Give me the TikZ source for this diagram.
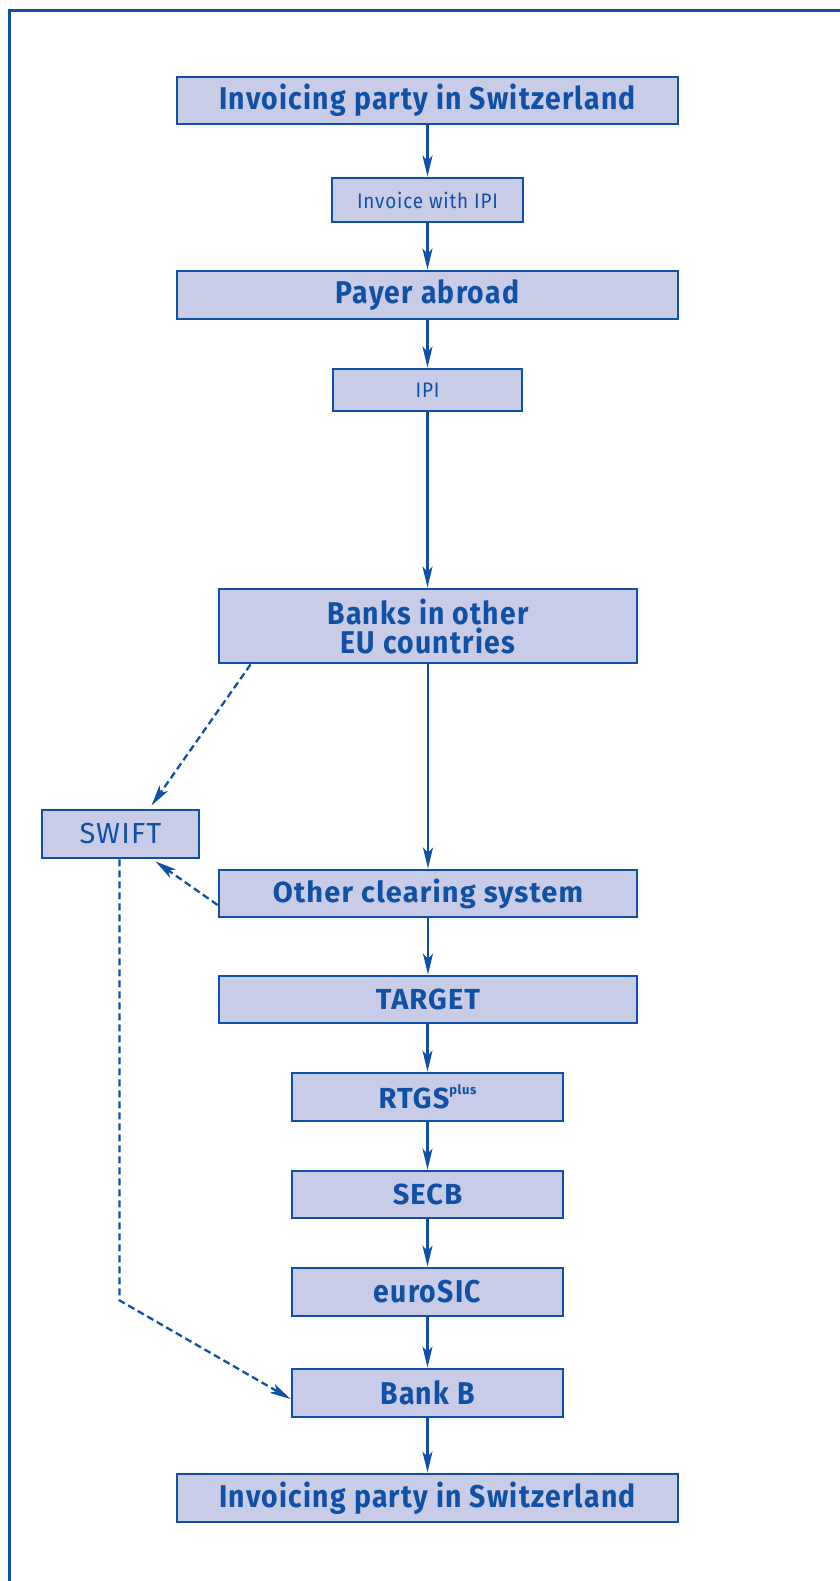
\documentclass[tikz,border=0pt]{standalone}
\usepackage{fontspec}
\setmainfont{Fira Sans}
\newfontfamily\condfont[FakeStretch=0.9,LetterSpace=4]{Fira Sans}
\newfontfamily\widefont[LetterSpace=4]{Fira Sans}
\usetikzlibrary{arrows.meta,calc}
\definecolor{lineblue}{RGB}{16,80,165}
\definecolor{boxfill}{RGB}{200,204,230}
\begin{document}
\begin{tikzpicture}[x=1pt,y=-1pt,
  box/.style={draw=lineblue, fill=boxfill, line width=2.8pt, inner sep=0pt, text=lineblue, align=center},
  bigc/.style={font=\condfont\bfseries\fontsize{31.5}{29}\selectfont},
  smallc/.style={font=\condfont\fontsize{21}{24}\selectfont},
  wideb/.style={font=\widefont\bfseries\fontsize{29}{34}\selectfont},
  wider/.style={font=\widefont\fontsize{29}{34}\selectfont},
  flow/.style={draw=lineblue, line width=2.3pt, -{Stealth[length=21pt,width=10pt,inset=5pt]}},
  dflow/.style={flow, dash pattern=on 7pt off 4pt}]
\useasboundingbox (0,0) rectangle (839,1581);
\draw[lineblue, line width=3pt] (9,1600) -- (9,11) -- (860,11);

\node[box, bigc, minimum width=501pt, minimum height=47pt] (inv1) at (427.5,100.5) {Invoicing party in Switzerland};
\node[box, smallc, minimum width=191pt, minimum height=44pt] (invoice) at (427.5,200) {Invoice with IPI};
\node[box, bigc, minimum width=501pt, minimum height=48pt] (payer) at (427.5,295) {Payer abroad};
\node[box, smallc, minimum width=189pt, minimum height=42pt] (ipi) at (427.5,390) {IPI};
\node[box, bigc, minimum width=418pt, minimum height=74pt] (banks) at (428,626) {Banks in other\\EU countries};
\node[box, wider, minimum width=157pt, minimum height=48pt] (swift) at (120.5,834) {SWIFT};
\node[box, wideb, minimum width=418pt, minimum height=47pt] (other) at (428,893.5) {Other clearing system};
\node[box, wideb, minimum width=418pt, minimum height=47pt] (target) at (428,999.5) {TARGET};
\node[box, wideb, minimum width=271pt, minimum height=48pt] (rtgs) at (427.5,1097) {RTGS\raisebox{0.5em}{\fontsize{13}{14}\selectfont plus}};
\node[box, wideb, minimum width=271pt, minimum height=47pt] (secb) at (427.5,1194.5) {SECB};
\node[box, bigc, minimum width=271pt, minimum height=48pt] (eurosic) at (427.5,1292) {euroSIC};
\node[box, bigc, minimum width=271pt, minimum height=48pt] (bankb) at (427.5,1393) {Bank B};
\node[box, bigc, minimum width=501pt, minimum height=48pt] (inv2) at (427.5,1498) {Invoicing party in Switzerland};

\draw[flow] (inv1) -- (invoice);
\draw[flow] (invoice) -- (payer);
\draw[flow] (payer) -- (ipi);
\draw[flow] (ipi.south) -- (ipi.south |- banks.north);
\draw[flow] (banks) -- (other);
\draw[flow] (other) -- (target);
\draw[flow] (target.south -| rtgs.north) -- (rtgs.north);
\draw[flow] (rtgs) -- (secb);
\draw[flow] (secb) -- (eurosic);
\draw[flow] (eurosic) -- (bankb);
\draw[flow] (bankb) -- (inv2);

\coordinate (a1) at ($(banks.south west)+(33,0)$);
\coordinate (a2) at ($(swift.north)+(31,-3)$);
\draw[dflow] (a1) -- (a2);
\coordinate (b1) at ($(other.west)+(0,11.5)$);
\coordinate (b2) at ($(swift.south)+(35,2)$);
\draw[dflow] (b1) -- (b2);
\coordinate (c1) at ($(swift.south)+(-1,0)$);
\coordinate (c2) at ($(bankb.west)+(0,6)$);
\draw[dflow] (c1) -- ++(0,441) -- (c2);
\end{tikzpicture}
\end{document}
